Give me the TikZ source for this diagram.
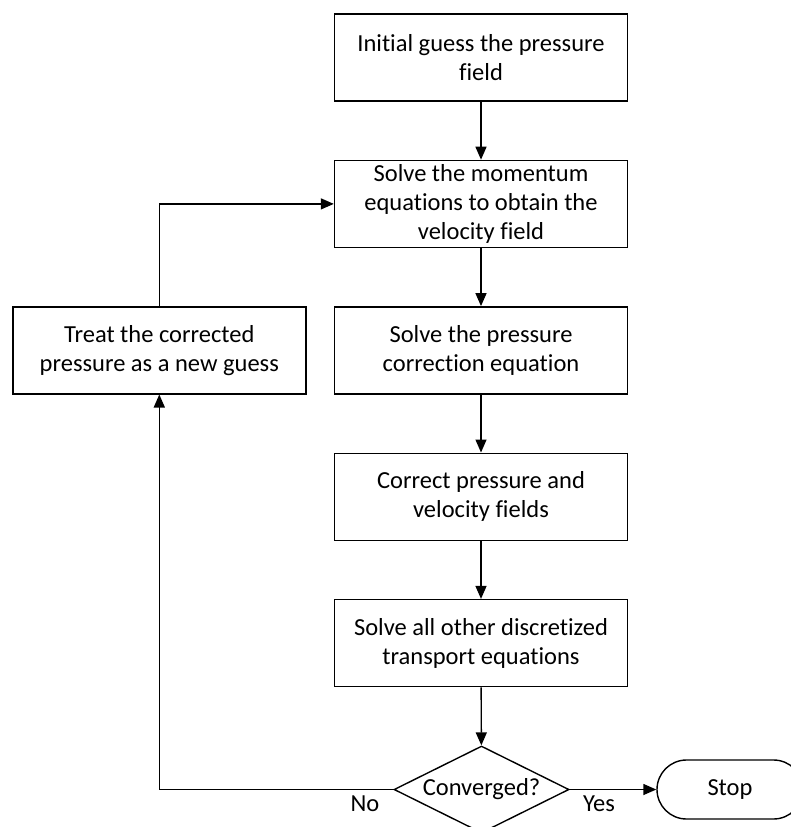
\documentclass[tikz,border=0pt]{standalone}
\usepackage{fontspec}
\setmainfont{Carlito}[Ligatures={NoCommon,NoContextual}]
\usetikzlibrary{shapes.geometric,shapes.misc,arrows.meta}

\begin{document}
\begin{tikzpicture}[x=1pt,y=-1pt,
  every node/.style={font=\fontsize{24.5}{29}\selectfont},
  stepbox/.style={draw, line width=1.4pt, minimum width=293pt, minimum height=87pt,
    align=center, inner sep=0pt},
  decision/.style={draw, line width=1.4pt, diamond, aspect=2, inner sep=0pt,
    minimum width=175pt, minimum height=87pt},
  terminal/.style={draw, line width=1.4pt, rounded rectangle, inner sep=0pt,
    minimum width=146pt, minimum height=59pt},
  lbl/.style={anchor=base, inner sep=0pt},
  flow/.style={line width=1.4pt, -{Triangle[length=13pt,width=11pt]}}
]
\useasboundingbox (0,0) rectangle (790,827);

% main column of steps
\node[stepbox] (guess)     at (481,57.5)  {Initial guess the pressure\\field};
\node[stepbox] (momentum)  at (481,203.9) {Solve the momentum\\equations to obtain the\\velocity field};
\node[stepbox] (pcorr)     at (481,350.3) {Solve the pressure\\correction equation};
\node[stepbox] (correct)   at (481,496.7) {Correct pressure and\\velocity fields};
\node[stepbox] (transport) at (481,643.1) {Solve all other discretized\\transport equations};

% convergence check and exit
\node[decision] (conv) at (481.5,789.5) {Converged?};
\node[terminal] (stop) at (730,789.5) {Stop};

% side step of the outer loop
\node[stepbox] (treat) at (159.3,350.3) {Treat the corrected\\pressure as a new guess};

% branch labels
\node[lbl] (nolab)  at (365,811) {No};
\node[lbl] (yeslab) at (599,811) {Yes};

% connectors
\draw[flow] (guess) -- (momentum);
\draw[flow] (momentum) -- (pcorr);
\draw[flow] (pcorr) -- (correct);
\draw[flow] (correct) -- (transport);
\draw[flow] (transport) -- (conv);
\draw[flow] (conv.east) -- (stop.west);
\draw[flow] (conv.west) -| (treat.south);
\draw[flow] (treat.north) |- (momentum.west);
\end{tikzpicture}
\end{document}
